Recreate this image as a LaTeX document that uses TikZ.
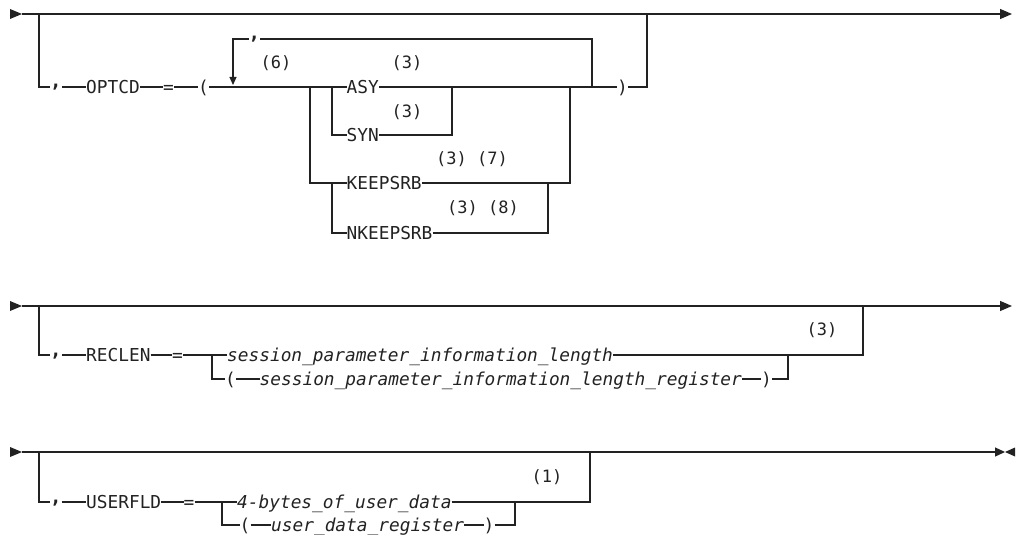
\documentclass[tikz,border=0pt]{standalone}
\usepackage{fontspec}
\setmonofont{DejaVu Sans Mono}
\usetikzlibrary{arrows.meta}
\definecolor{ink}{HTML}{222222}
\tikzset{
  rail/.style={draw=ink, line width=1.2pt},
  kw/.style={font=\ttfamily\fontsize{17.8}{20}\selectfont, text=ink, inner xsep=0pt, inner ysep=0pt,
             anchor=west, text height=13pt, text depth=0pt},
  var/.style={kw, font=\ttfamily\itshape\fontsize{17.8}{20}\selectfont},
  commakw/.style={kw, font=\ttfamily\bfseries\fontsize{19}{20}\selectfont, text height=2pt},
  note/.style={font=\ttfamily\fontsize{17}{19}\selectfont, text=ink, inner sep=0pt},
  endtip/.style={-{Triangle[length=12pt,width=10pt]}},
  looptip/.style={-{Triangle[length=8pt,width=7pt]}}
}
\begin{document}
\begin{tikzpicture}[x=1pt,y=-1pt]
\useasboundingbox (0,0) rectangle (1018,535);

% ---------------- Row 1 ----------------
\coordinate (a1) at (22,14);
\coordinate (b1) at (1012,14);
\coordinate (j1) at (39,14);
\coordinate (k1) at (647,14);
\fill[ink] (a1) -- ++(-12,-5) -- ++(0,10) -- cycle;
\draw[rail,endtip] (a1) -- (b1);

\node[commakw] (c1) at (50,87) {,};
\node[kw] (optcd) at (86,87) {OPTCD};
\node[kw] (eq1) at (163,87) {=};
\node[kw] (lp1) at (198,87) {(};
\node[kw] (asy) at (346.5,87) {ASY};
\node[kw] (syn) at (346.5,135) {SYN};
\node[kw] (keep) at (346.5,183) {KEEPSRB};
\node[kw] (nkeep) at (346.5,233) {NKEEPSRB};
\node[kw] (rp1) at (617,87) {)};
\node[commakw] (c1b) at (248.5,39) {,};

\coordinate (s1) at (310,87);
\coordinate (s2) at (332,87);
\coordinate (s3) at (332,183);
\coordinate (m1) at (452,87);
\coordinate (m2) at (570,87);
\coordinate (m3) at (548,183);
\coordinate (lp) at (592,87);
\coordinate (la) at (233,85);

\draw[rail] (j1) |- (c1.west);
\draw[rail] (c1.east) -- (optcd.west);
\draw[rail] (optcd.east) -- (eq1.west);
\draw[rail] (eq1.east) -- (lp1.west);
\draw[rail] (lp1.east) -- (asy.west);
\draw[rail] (s1) |- (keep.west);
\draw[rail] (s2) |- (syn.west);
\draw[rail] (s3) |- (nkeep.west);
\draw[rail] (asy.east) -- (rp1.west);
\draw[rail] (syn.east) -| (m1);
\draw[rail] (keep.east) -| (m2);
\draw[rail] (nkeep.east) -| (m3);
\draw[rail] (lp) |- (c1b.east);
\draw[rail,looptip] (c1b.west) -| (la);
\draw[rail] (rp1.east) -| (k1);

\node[note] (n6) at (276,63) {(6)};
\node[note] (n3a) at (407,63) {(3)};
\node[note] (n3b) at (407,112) {(3)};
\node[note] (n37) at (472,159) {(3) (7)};
\node[note] (n38) at (483,208) {(3) (8)};

% ---------------- Row 2 ----------------
\coordinate (a2) at (22,306);
\coordinate (b2) at (1012,306);
\coordinate (j2) at (39,306);
\coordinate (k2) at (863,306);
\fill[ink] (a2) -- ++(-12,-5) -- ++(0,10) -- cycle;
\draw[rail,endtip] (a2) -- (b2);

\node[commakw] (c2) at (50,355) {,};
\node[kw] (reclen) at (86,355) {RECLEN};
\node[kw] (eq2) at (172,355) {=};
\coordinate (s4) at (212,355);
\node[var] (spil) at (227,355) {session\_parameter\_information\_length};
\node[kw] (lp2) at (225,379) {(};
\node[var] (spilr) at (259.5,379) {session\_parameter\_information\_length\_register};
\node[kw] (rp2) at (761,379) {)};
\coordinate (m4) at (788,355);

\draw[rail] (j2) |- (c2.west);
\draw[rail] (c2.east) -- (reclen.west);
\draw[rail] (reclen.east) -- (eq2.west);
\draw[rail] (eq2.east) -- (spil.west);
\draw[rail] (spil.east) -| (k2);
\draw[rail] (s4) |- (lp2.west);
\draw[rail] (lp2.east) -- (spilr.west);
\draw[rail] (spilr.east) -- (rp2.west);
\draw[rail] (rp2.east) -| (m4);

\node[note] (n3c) at (822,330) {(3)};

% ---------------- Row 3 ----------------
\coordinate (a3) at (22,452);
\coordinate (b3) at (1005,452);
\coordinate (j3) at (39,452);
\coordinate (k3) at (590,452);
\coordinate (th1) at (597,452);
\coordinate (th2) at (618,452);
\fill[ink] (a3) -- ++(-12,-5) -- ++(0,10) -- cycle;
\draw[rail,-{Triangle[length=10pt,width=9pt]}] (a3) -- (b3);
\fill[ink] (b3) -- ++(10,-4.5) -- ++(0,9) -- cycle;
\draw[ink, line width=2.4pt] (th1) -- (th2);

\node[commakw] (c3) at (50,502) {,};
\node[kw] (userfld) at (86,502) {USERFLD};
\node[kw] (eq3) at (183.5,502) {=};
\coordinate (s5) at (222,502);
\node[var] (four) at (237,502) {4-bytes\_of\_user\_data};
\node[kw] (lp3) at (239.5,525) {(};
\node[var] (udr) at (271,525) {user\_data\_register};
\node[kw] (rp3) at (483.5,525) {)};
\coordinate (m5) at (515,502);

\draw[rail] (j3) |- (c3.west);
\draw[rail] (c3.east) -- (userfld.west);
\draw[rail] (userfld.east) -- (eq3.west);
\draw[rail] (eq3.east) -- (four.west);
\draw[rail] (four.east) -| (k3);
\draw[rail] (s5) |- (lp3.west);
\draw[rail] (lp3.east) -- (udr.west);
\draw[rail] (udr.east) -- (rp3.west);
\draw[rail] (rp3.east) -| (m5);

\node[note] (n1) at (547,477) {(1)};
\end{tikzpicture}
\end{document}
